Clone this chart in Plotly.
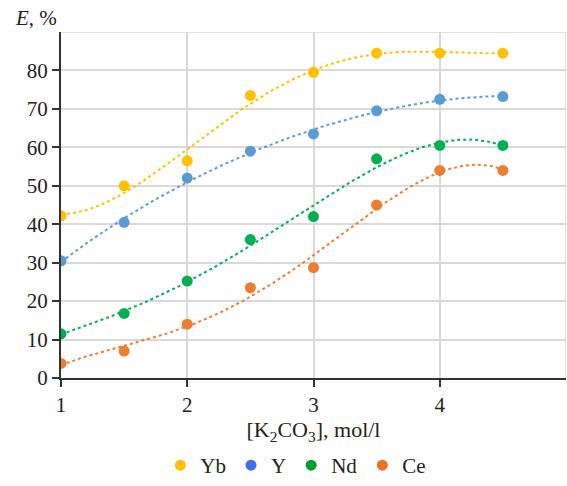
import numpy as np
import plotly.graph_objects as go

x = [1, 1.5, 2, 2.5, 3, 3.5, 4, 4.5]
series_names = ["Yb", "Y", "Nd", "Ce"]
yb = [42.2, 50.0, 56.5, 73.5, 79.5, 84.5, 84.5, 84.5]
y_vals = [30.5, 40.5, 52.0, 59.0, 63.5, 69.5, 72.5, 73.2]
nd = [11.5, 16.8, 25.2, 36.0, 42.0, 57.0, 60.5, 60.5]
ce = [3.8, 7.0, 14.0, 23.5, 28.7, 45.0, 54.0, 54.0]
colors = ["#FFC000", "#5B9BD5", "#00B050", "#ED7D31"]
legend_colors = ["#FFC000", "#3D6FE8", "#00A030", "#F07020"]
x_ticks = [1, 2, 3, 4]
y_ticks = [0, 10, 20, 30, 40, 50, 60, 70, 80]

data = [yb, y_vals, nd, ce]
FF = "Liberation Serif"
FS = 21

fig = go.Figure()
xs = np.linspace(1, 4.5, 200)
for name, vals, col in zip(series_names, data, colors):
    coef = np.polyfit(x, vals, 4)
    fig.add_trace(go.Scatter(x=xs, y=np.polyval(coef, xs), mode="lines",
                             line=dict(color=col, width=2, dash="dot"),
                             showlegend=False, hoverinfo="skip"))
for name, vals, col, lc in zip(series_names, data, colors, legend_colors):
    fig.add_trace(go.Scatter(x=x, y=vals, mode="markers", name=name,
                             marker=dict(color=col, size=11), showlegend=False))
    fig.add_trace(go.Scatter(x=[None], y=[None], mode="markers", name=name,
                             marker=dict(color=lc, size=11)))

fig.update_layout(
    width=567, height=486,
    margin=dict(l=61, r=1, t=32, b=108, autoexpand=False),
    paper_bgcolor="white", plot_bgcolor="white",
    font=dict(family=FF, size=FS, color="#222"),
    xaxis=dict(range=[1, 5], tickvals=x_ticks, showgrid=True, gridcolor="#d9d9d9",
               gridwidth=1.5, showline=True, linecolor="#333", linewidth=2,
               ticks="outside", ticklen=7, tickcolor="#333", tickwidth=2,
               ticklabelstandoff=0, automargin=False,
               zeroline=False, tickfont=dict(family=FF, size=FS, color="#222"),
               title=dict(text="[K<sub>2</sub>CO<sub>3</sub>], mol/l", standoff=4,
                          font=dict(family=FF, size=22, color="#222"))),
    yaxis=dict(range=[0, 90], tickvals=y_ticks, showgrid=True, gridcolor="#d9d9d9",
               gridwidth=1.5, showline=True, linecolor="#333", linewidth=2,
               ticks="outside", ticklen=7, tickcolor="#333", tickwidth=2,
               automargin=False,
               zeroline=False, tickfont=dict(family=FF, size=FS, color="#222")),
    legend=dict(orientation="h", x=0.465, xanchor="center", yref="container",
                y=0.0, yanchor="bottom",
                font=dict(family=FF, size=FS, color="#222"), itemwidth=30,
                tracegroupgap=0),
    shapes=[
        dict(type="line", xref="paper", yref="y", x0=0, x1=1, y0=90, y1=90,
             line=dict(color="#d9d9d9", width=1.5), layer="below"),
        dict(type="line", xref="x", yref="paper", x0=5, x1=5, y0=0, y1=1,
             line=dict(color="#d9d9d9", width=1.5), layer="below"),
    ],
    annotations=[dict(text="<i>E</i>, %", xref="paper", yref="paper", x=-0.095, y=1.0,
                      xanchor="left", yanchor="bottom", showarrow=False,
                      font=dict(family=FF, size=FS, color="#222"))],
)

fig.write_html("out.html")
